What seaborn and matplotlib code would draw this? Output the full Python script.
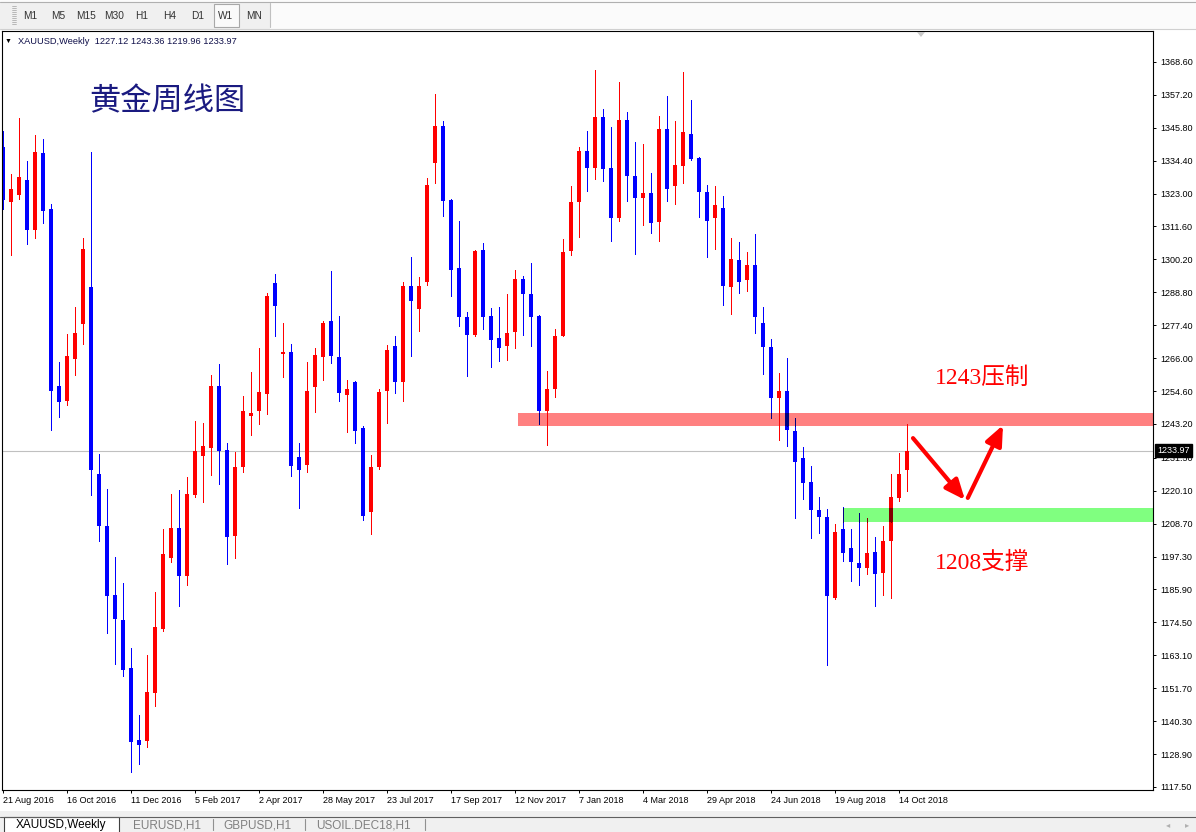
import numpy as np
import pandas as pd
import matplotlib
matplotlib.use("Agg")
import matplotlib.pyplot as plt
import seaborn as sns
from matplotlib.patches import Rectangle, Polygon
from matplotlib.lines import Line2D
from matplotlib.colors import to_rgb
from matplotlib.transforms import blended_transform_factory

# XAUUSD weekly candles, week of 21 Aug 2016 .. 21 Oct 2018
opens = [1339.1, 1320.1, 1322.5, 1327.8, 1310.3, 1337.1, 1317.7, 1256.4, 1251.0, 1265.6,
         1277.7, 1290.6, 1225.8, 1207.9, 1184.0, 1175.4, 1158.8, 1133.6, 1133.5, 1150.0,
         1172.2, 1196.8, 1207.3, 1190.6, 1218.5, 1232.1, 1234.8, 1256.4, 1234.2, 1204.4,
         1228.3, 1245.9, 1247.8, 1253.5, 1292.1, 1267.6, 1268.2, 1231.7, 1229.1, 1255.9,
         1266.3, 1278.7, 1266.5, 1253.1, 1257.6, 1241.7, 1212.6, 1228.2, 1254.5, 1270.3,
         1257.8, 1291.1, 1283.1, 1292.5, 1333.7, 1346.4, 1320.8, 1297.1, 1280.3, 1274.1,
         1303.5, 1280.7, 1273.0, 1270.1, 1275.2, 1293.4, 1288.2, 1280.7, 1247.6, 1255.3,
         1273.6, 1303.0, 1320.2, 1337.8, 1331.7, 1349.6, 1331.7, 1314.4, 1348.5, 1329.1,
         1321.3, 1323.2, 1313.2, 1345.4, 1325.7, 1332.6, 1343.7, 1335.4, 1323.6, 1314.6,
         1318.0, 1290.7, 1300.1, 1293.0, 1298.4, 1278.2, 1269.9, 1252.3, 1254.7, 1240.9,
         1231.4, 1223.0, 1213.4, 1210.9, 1182.8, 1207.0, 1200.3, 1194.9, 1193.5, 1199.0,
         1191.7, 1202.6, 1217.5, 1227.12]
highs = [1344.5, 1329.6, 1349.2, 1334.3, 1343.4, 1341.9, 1319.5, 1264.7, 1274.5, 1283.8,
         1307.7, 1337.3, 1232.8, 1220.7, 1197.3, 1188.0, 1165.8, 1142.4, 1163.1, 1184.9,
         1206.7, 1218.8, 1220.2, 1225.0, 1244.4, 1243.5, 1260.0, 1263.8, 1236.7, 1233.6,
         1252.9, 1261.1, 1269.5, 1288.4, 1295.2, 1278.0, 1270.9, 1236.5, 1264.8, 1269.4,
         1279.0, 1296.0, 1280.7, 1258.5, 1258.2, 1242.4, 1232.6, 1255.3, 1270.5, 1273.8,
         1292.2, 1300.9, 1294.2, 1328.4, 1357.4, 1348.0, 1321.0, 1313.6, 1282.1, 1303.5,
         1305.8, 1283.3, 1283.8, 1288.2, 1296.5, 1294.5, 1299.1, 1281.0, 1261.7, 1276.1,
         1307.4, 1325.7, 1339.2, 1344.7, 1365.8, 1352.3, 1346.1, 1361.6, 1351.3, 1341.0,
         1340.3, 1330.0, 1349.9, 1356.9, 1348.2, 1365.2, 1355.4, 1335.6, 1326.0, 1325.7,
         1322.2, 1307.6, 1306.1, 1302.8, 1309.1, 1283.8, 1272.5, 1260.9, 1266.0, 1245.4,
         1235.1, 1228.5, 1217.8, 1213.7, 1208.5, 1214.3, 1207.0, 1212.5, 1210.8, 1204.2,
         1207.9, 1226.0, 1233.2, 1243.36]
lows = [1317.6, 1301.8, 1321.2, 1305.6, 1307.7, 1312.9, 1241.1, 1245.5, 1249.6, 1260.1,
        1270.9, 1218.6, 1202.8, 1170.8, 1160.0, 1155.9, 1122.7, 1125.3, 1131.2, 1145.5,
        1171.6, 1195.4, 1180.2, 1187.6, 1218.0, 1216.1, 1225.7, 1222.5, 1194.6, 1196.8,
        1226.5, 1239.3, 1243.1, 1246.5, 1273.6, 1259.3, 1225.3, 1214.0, 1226.5, 1247.5,
        1258.5, 1264.2, 1251.0, 1240.3, 1236.5, 1210.0, 1205.0, 1227.6, 1243.4, 1253.8,
        1251.0, 1266.8, 1275.5, 1291.4, 1326.5, 1315.3, 1287.6, 1277.2, 1259.9, 1273.8,
        1276.1, 1263.0, 1264.9, 1265.5, 1269.4, 1274.1, 1270.1, 1243.2, 1236.0, 1252.4,
        1273.5, 1301.8, 1307.8, 1323.7, 1327.9, 1327.2, 1306.6, 1313.6, 1320.5, 1302.2,
        1312.2, 1309.2, 1306.6, 1320.5, 1319.3, 1326.5, 1334.5, 1314.7, 1301.1, 1303.9,
        1284.5, 1281.4, 1288.6, 1289.3, 1274.8, 1260.6, 1245.4, 1237.6, 1235.7, 1210.8,
        1217.2, 1203.8, 1205.4, 1159.7, 1182.6, 1195.9, 1189.0, 1187.3, 1191.4, 1180.3,
        1184.1, 1182.8, 1216.5, 1219.96]
closes = [1320.8, 1324.6, 1328.8, 1310.3, 1337.4, 1317.1, 1254.5, 1250.7, 1266.9, 1274.8,
          1303.9, 1227.3, 1207.9, 1183.6, 1175.6, 1158.0, 1133.0, 1132.0, 1150.4, 1172.8,
          1198.2, 1207.3, 1190.6, 1218.8, 1234.0, 1235.4, 1256.4, 1233.7, 1204.0, 1228.3,
          1247.8, 1247.1, 1254.3, 1287.6, 1284.2, 1268.2, 1228.8, 1227.4, 1254.7, 1267.2,
          1278.2, 1266.8, 1253.8, 1255.4, 1240.6, 1211.5, 1228.2, 1254.1, 1268.9, 1257.8,
          1291.1, 1285.9, 1291.1, 1326.0, 1346.4, 1320.5, 1296.6, 1280.1, 1274.1, 1303.2,
          1280.3, 1272.4, 1269.4, 1274.7, 1293.4, 1288.2, 1280.1, 1247.6, 1255.3, 1273.8,
          1302.9, 1320.1, 1337.8, 1331.7, 1349.6, 1331.4, 1314.4, 1348.5, 1328.9, 1321.3,
          1323.2, 1312.9, 1345.4, 1324.4, 1333.0, 1344.4, 1335.1, 1323.4, 1313.6, 1319.1,
          1291.1, 1300.4, 1292.5, 1298.4, 1280.1, 1269.7, 1252.1, 1254.7, 1241.0, 1230.1,
          1222.7, 1213.4, 1210.9, 1183.8, 1205.7, 1198.6, 1195.5, 1193.5, 1198.6, 1191.2,
          1202.8, 1217.8, 1226.0, 1233.97]

first_week = '21 Aug 2016'
date_labels = ['21 Aug 2016', '16 Oct 2016', '11 Dec 2016', '5 Feb 2017', '2 Apr 2017',
               '28 May 2017', '23 Jul 2017', '17 Sep 2017', '12 Nov 2017', '7 Jan 2018',
               '4 Mar 2018', '29 Apr 2018', '24 Jun 2018', '19 Aug 2018', '14 Oct 2018']
price_labels = ['1368.60', '1357.20', '1345.80', '1334.40', '1323.00', '1311.60', '1300.20',
                '1288.80', '1277.40', '1266.00', '1254.60', '1243.20', '1231.50', '1220.10',
                '1208.70', '1197.30', '1185.90', '1174.50', '1163.10', '1151.70', '1140.30',
                '1128.90', '1117.50']
last_price = 1233.97
resistance = (1242.6, 1247.1)   # 1243 压制
support = (1209.4, 1214.2)      # 1208 支撑
timeframes = ['M1', 'M5', 'M15', 'M30', 'H1', 'H4', 'D1', 'W1', 'MN']
tabs = ['XAUUSD,Weekly', 'EURUSD,H1', 'GBPUSD,H1', 'USOIL.DEC18,H1']

df = pd.DataFrame({'open': opens, 'high': highs, 'low': lows, 'close': closes})
df['x'] = np.arange(len(df))
df['up'] = df['close'] >= df['open']
df['bottom'] = df[['open', 'close']].min(axis=1)
df['top'] = df[['open', 'close']].max(axis=1)
df['body'] = (df['top'] - df['bottom']).clip(lower=0.4)

sns.set_style('white')
plt.rcParams['font.family'] = ['Liberation Sans', 'Noto Sans CJK SC', 'DejaVu Sans']

W, H = 1196, 832
fig = plt.figure(figsize=(W / 100, H / 100), dpi=100)
fig.patch.set_facecolor('white')


def fig_rect(x0, y0, x1, y1, **kw):
    fig.add_artist(Rectangle((x0 / W, 1 - y1 / H), (x1 - x0) / W, (y1 - y0) / H,
                             transform=fig.transFigure, **kw))


def fig_line(x0, y0, x1, y1, **kw):
    fig.add_artist(Line2D([x0 / W, x1 / W], [1 - y0 / H, 1 - y1 / H],
                          transform=fig.transFigure, **kw))


def fig_text(x, y, s, **kw):
    fig.text(x / W, 1 - y / H, s, **kw)


# chart area (pixels 2..1153 x 31..790)
ax = fig.add_axes([2 / W, 1 - 790 / H, 1151 / W, 759 / H])
ax.set_facecolor('white')
ax.set_xlim(-0.125, 143.75)
ax.set_ylim(1116.46, 1379.27)

up_c, dn_c = '#ff0000', '#0000ff'
df['color'] = np.where(df['up'], up_c, dn_c)

BODY_W = 0.62
ax.axhline(last_price, color='#c0c0c0', lw=0.8, zorder=1)
ax.vlines(df['x'], df['low'], df['high'], colors=df['color'], lw=0.72, zorder=2,
          antialiased=False)
ax.bar(df['x'], df['body'], bottom=df['bottom'], width=BODY_W, color=df['color'],
       linewidth=0, zorder=2, antialiased=False)

# support / resistance bands, colour multiplied over the candles they cover
xmax = ax.get_xlim()[1]
bands = [(64.4, resistance, '#ff8080'), (105.0, support, '#80ff80')]
for x0, (lo, hi), fc in bands:
    ax.add_patch(Rectangle((x0, lo), xmax - x0, hi - lo, facecolor=fc,
                           edgecolor='none', zorder=1.5))
    sub = df[df['x'] >= x0 - 0.2].copy()
    sub['mcol'] = [tuple(np.array(to_rgb(c)) * np.array(to_rgb(fc))) for c in sub['color']]
    wk = sub[(sub['low'] < hi) & (sub['high'] > lo)]
    ax.vlines(wk['x'], wk['low'].clip(lower=lo), wk['high'].clip(upper=hi),
              colors=list(wk['mcol']), lw=0.72, zorder=3, antialiased=False)
    bd = sub[(sub['bottom'] < hi) & (sub['top'] > lo)]
    b0 = bd['bottom'].clip(lower=lo)
    b1 = bd['top'].clip(upper=hi)
    ax.bar(bd['x'], b1 - b0, bottom=b0, width=BODY_W, color=list(bd['mcol']),
           linewidth=0, zorder=3, antialiased=False)

# arrows
arrow_kw = dict(arrowstyle='-|>,head_length=0.75,head_width=0.32', color='red', lw=3,
                mutation_scale=16, shrinkA=0, shrinkB=0)
ax.annotate('', xy=(120.25, 1216.9), xytext=(113.75, 1238.3), arrowprops=arrow_kw, zorder=5)
ax.annotate('', xy=(125.0, 1242.8), xytext=(120.6, 1217.6), arrowprops=arrow_kw, zorder=5)

ax.text(122.4, 1259.1, '1243压制', color='red', fontsize=17, ha='center', va='center',
        family=['Liberation Serif', 'Noto Sans CJK SC'], zorder=6)
ax.text(122.4, 1195.1, '1208支撑', color='red', fontsize=17, ha='center', va='center',
        family=['Liberation Serif', 'Noto Sans CJK SC'], zorder=6)

# axes styling
for s in ax.spines.values():
    s.set_visible(True)
    s.set_color('black')
    s.set_linewidth(0.8)
ax.yaxis.tick_right()
ax.set_yticks([float(v) for v in price_labels])
ax.set_yticklabels(price_labels)
start = pd.to_datetime(first_week)
tick_pos = [(pd.to_datetime(d) - start).days // 7 for d in date_labels]
ax.set_xticks(tick_pos)
ax.set_xticklabels(date_labels)
for lab in ax.get_xticklabels():
    lab.set_ha('left')
ax.tick_params(axis='y', direction='out', length=2.5, width=0.7, pad=2.5,
               labelsize=6.5, colors='black', right=True, left=False)
ax.tick_params(axis='x', direction='out', length=2.5, width=0.7, pad=2,
               labelsize=6.5, colors='black', bottom=True)

# last price box
tr = blended_transform_factory(ax.transAxes, ax.transData)
ax.text(1.0 + 4 / 1151, last_price, '1233.97', transform=tr, ha='left', va='center',
        color='white', fontsize=6.5, clip_on=False, zorder=10,
        bbox=dict(boxstyle='square,pad=0.25', fc='black', ec='black'))

# chart captions
fig_text(8, 41, '▼', fontsize=5, color='black', va='center', ha='center')
fig_text(18, 41, 'XAUUSD,Weekly  1227.12 1243.36 1219.96 1233.97', fontsize=6.7,
         color='#10104a', va='center')
fig_text(89, 101, '黄金周线图', fontsize=22.5, color='#1a1a80', va='center',
         family=['Noto Sans CJK SC', 'DejaVu Sans'])
fig.add_artist(Polygon([[917 / W, 1 - 32 / H], [925 / W, 1 - 32 / H], [921 / W, 1 - 37 / H]],
                       closed=True, transform=fig.transFigure, fc='#c8c8c8', ec='none'))

# toolbar
fig_rect(0, 0, W, 29, fc='#fbfbfb', ec='none')
fig_rect(0, 2, 270, 29, fc='#f0f0f0', ec='none')
fig_line(0, 1.5, W, 1.5, color='#b0b0b0', lw=0.8)
fig_line(0, 28.5, W, 28.5, color='#d0d0d0', lw=0.8)
fig_line(270, 3, 270, 27, color='#c0c0c0', lw=0.8)
for gy in range(6, 26, 2):
    fig_line(12, gy, 16, gy, color='#a0a0a0', lw=0.5)
fig_rect(214, 4, 239, 27, fc='#fafafa', ec='#a8a8a8', lw=0.8)
for i, tf in enumerate(timeframes):
    fig_text(30 + i * 28, 16, tf, fontsize=7.3, color='#333333', ha='center', va='center')

# bottom tabs
fig_rect(0, 811, W, H, fc='#f0f0f0', ec='none')
fig_line(0, 817, W, 817, color='#606060', lw=0.8)
fig_rect(4, 817, 119, H + 2, fc='white', ec='#404040', lw=0.8)
tab_x = [61, 167, 257, 363]
for i, (tx, t) in enumerate(zip(tab_x, tabs)):
    fig_text(tx, 825, t, fontsize=8.5, ha='center', va='center',
             color='black' if i == 0 else '#808080')
for sx in [213, 305, 425]:
    fig_line(sx, 819, sx, 830, color='#909090', lw=0.8)
fig_text(1168, 825, '◂', fontsize=6, color='#b0b0b0', ha='center', va='center',
         family=['DejaVu Sans'])
fig_text(1187, 825, '▸', fontsize=6, color='#b0b0b0', ha='center', va='center',
         family=['DejaVu Sans'])

fig.savefig('out.png', dpi=100)
